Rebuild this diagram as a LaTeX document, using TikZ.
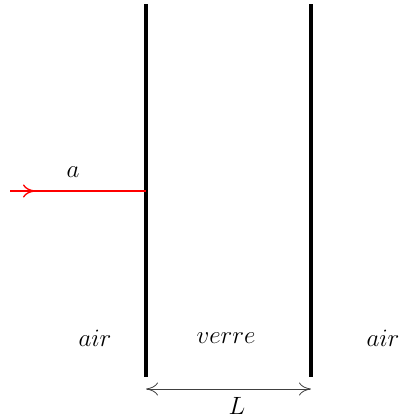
\documentclass[tikz,border=0pt]{standalone}
\usepackage{fix-cm}
\usetikzlibrary{arrows.meta, decorations.markings}

\begin{document}
\begin{tikzpicture}[>={To[length=12pt,width=13pt]},x=1pt,y=-1pt,
  every node/.style={font=\fontsize{25}{30}\selectfont},
  wall/.style={line width=4pt},
  ray/.style={draw=red,color=red,line width=1.3pt}]
  \useasboundingbox (0,0) rectangle (401,418);
  % the two faces of the glass plate
  \coordinate (wallAtop) at (146,4);
  \coordinate (wallAbot) at (146,377);
  \coordinate (wallBtop) at (311,4);
  \coordinate (wallBbot) at (311,377);
  \draw[wall](wallAtop)--(wallAbot);
  \draw[wall](wallBtop)--(wallBbot);
  % incident ray
  \coordinate (src) at (10,191);
  \coordinate (hit) at (146,191);
  \draw[ray,postaction={decorate},
    decoration={markings,mark=at position 25pt with {\arrow{>}}}](src)--(hit);
  \node (a) at (73,172) {$a$};
  % media
  \node (airL) at (95,338) {$air$};
  \node (verre) at (226,338) {$verre$};
  \node (airR) at (383,338) {$air$};
  % thickness
  \coordinate (lenA) at (146,389);
  \coordinate (lenB) at (311,389);
  \draw[<->,black!75,line width=0.8pt](lenA)--(lenB);
  \node (L) at (237,406) {$L$};
\end{tikzpicture}
\end{document}
